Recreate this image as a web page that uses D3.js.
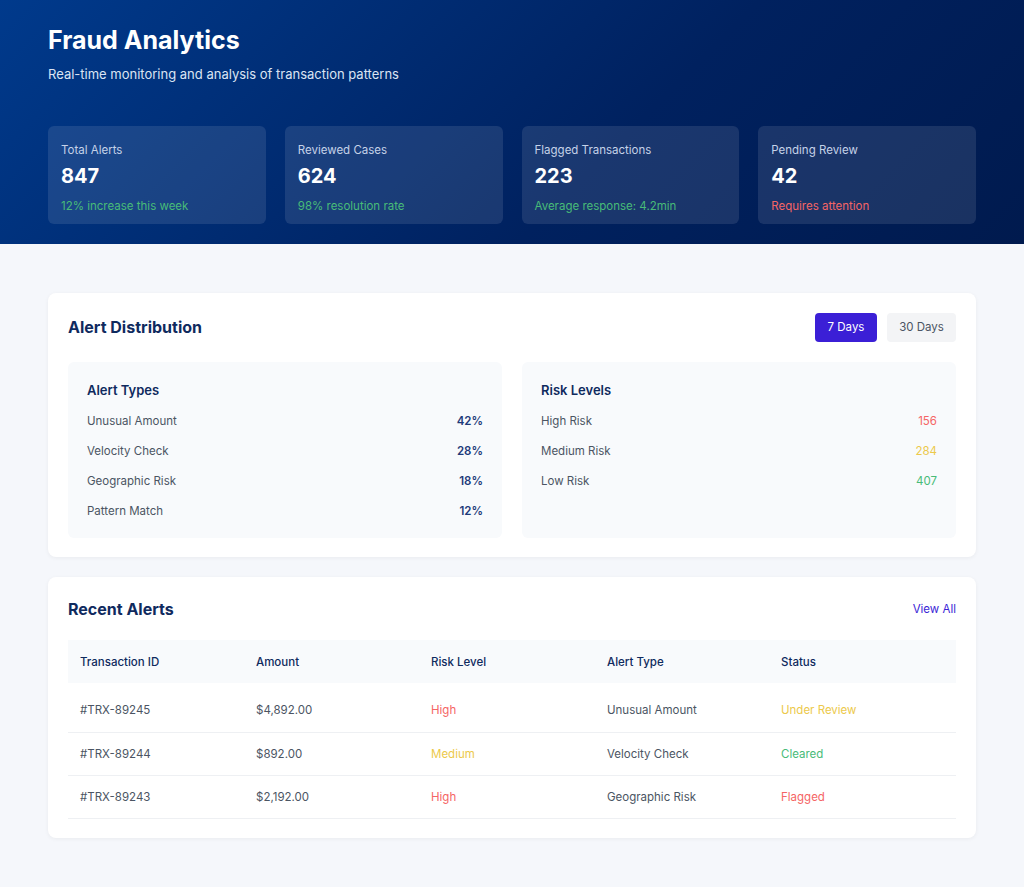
<!DOCTYPE html>
<html>
<head>
<meta charset="utf-8">
<script src="https://cdn.jsdelivr.net/npm/d3@7"></script>
<style>
  * { box-sizing: border-box; margin: 0; padding: 0; }
  body { width: 1024px; height: 887px; background: #f5f7fb; font-family: Inter, "Noto Sans", sans-serif; overflow: hidden; }
  .hero { height: 244px; background: linear-gradient(135deg, #003a8c 0%, #00215f 60%, #001a4e 100%); padding: 25px 48px 0; color: #fff; }
  .hero h1 { font-size: 25px; font-weight: 700; line-height: 30px; }
  .hero p { font-size: 13px; color: #dbe4f3; margin-top: 11px; }
  .stats { display: flex; gap: 19px; margin-top: 44px; }
  .stat { width: 218px; height: 98px; background: rgba(255,255,255,0.1); border-radius: 6px; padding: 17px 13px; }
  .stat .lbl { font-size: 11.5px; color: #c5d2e8; }
  .stat .val { font-size: 20px; font-weight: 700; margin-top: 7px; }
  .stat .sub { font-size: 11.5px; margin-top: 11px; }
  .panel { position: absolute; left: 48px; width: 928px; background: #fff; border-radius: 8px; box-shadow: 0 1px 4px rgba(0,0,0,0.05); }
  .ptitle { position: absolute; left: 20px; font-size: 16px; font-weight: 700; color: #0f2a5e; }
  .btn { position: absolute; height: 29px; border-radius: 4px; font-size: 11.5px; line-height: 29px; text-align: center; }
  .box { position: absolute; top: 69px; width: 434px; height: 176px; background: #f8fafc; border-radius: 6px; padding: 20px 19px; }
  .box h3 { font-size: 13px; font-weight: 600; color: #0f2a5e; margin-bottom: 13px; }
  .row { display: flex; justify-content: space-between; height: 30px; line-height: 20px; font-size: 11.5px; color: #4b5563; }
  .row b { font-weight: 600; }
  table { position: absolute; left: 20px; top: 63px; width: 888px; border-collapse: collapse; font-size: 11.5px; table-layout: fixed; }
  th { background: #f8fafc; height: 43px; text-align: left; font-weight: 500; color: #0f2a5e; padding-left: 12px; }
  td { height: 43px; padding-left: 12px; color: #4b5563; border-bottom: 1px solid #eef0f3; }
  tr.first td { height: 49px; padding-top: 6px; }
</style>
</head>
<body>
<div class="hero">
  <h1>Fraud Analytics</h1>
  <p>Real-time monitoring and analysis of transaction patterns</p>
  <div class="stats" id="stats"></div>
</div>
<div class="panel" style="top:293px;height:264px" id="dist"></div>
<div class="panel" style="top:577px;height:261px" id="recent"></div>
<script>
const statLabels = ["Total Alerts", "Reviewed Cases", "Flagged Transactions", "Pending Review"];
const statValues = [847, 624, 223, 42];
const statNotes = ["12% increase this week", "98% resolution rate", "Average response: 4.2min", "Requires attention"];
const statNoteColors = ["#48bb78", "#48bb78", "#48bb78", "#f56565"];

const alertTypes = ["Unusual Amount", "Velocity Check", "Geographic Risk", "Pattern Match"];
const alertShares = [42, 28, 18, 12];
const riskLevels = ["High Risk", "Medium Risk", "Low Risk"];
const riskCounts = [156, 284, 407];
const riskColors = ["#f56565", "#ecc94b", "#48bb78"];

const tableHead = ["Transaction ID", "Amount", "Risk Level", "Alert Type", "Status"];
const colWidths = [176, 175, 176, 174, 187];
const txIds = ["#TRX-89245", "#TRX-89244", "#TRX-89243"];
const txAmounts = [4892, 892, 2192];
const txRisk = ["High", "Medium", "High"];
const txType = ["Unusual Amount", "Velocity Check", "Geographic Risk"];
const txStatus = ["Under Review", "Cleared", "Flagged"];
const riskColor = { High: "#f56565", Medium: "#ecc94b" };
const statusColor = { "Under Review": "#ecc94b", "Cleared": "#48bb78", "Flagged": "#f56565" };

// stat cards
const cards = d3.select("#stats").selectAll(".stat")
    .data(statLabels).join("div").attr("class", "stat");
cards.append("div").attr("class", "lbl").text(d => d);
cards.append("div").attr("class", "val").text((d, i) => statValues[i]);
cards.append("div").attr("class", "sub").style("color", (d, i) => statNoteColors[i]).text((d, i) => statNotes[i]);

// alert distribution
const dist = d3.select("#dist");
dist.append("div").attr("class", "ptitle").style("top", "24px").text("Alert Distribution");
dist.append("div").attr("class", "btn")
    .style("left", "767px").style("top", "20px").style("width", "62px")
    .style("background", "#3b1fd6").style("color", "#fff").text("7 Days");
dist.append("div").attr("class", "btn")
    .style("left", "839px").style("top", "20px").style("width", "69px")
    .style("background", "#f3f4f6").style("color", "#4b5563").text("30 Days");

const b1 = dist.append("div").attr("class", "box").style("left", "20px");
b1.append("h3").text("Alert Types");
b1.selectAll(".row").data(alertTypes).join("div").attr("class", "row")
    .html((d, i) => `<span>${d}</span><b style="color:#1e3a7a">${alertShares[i]}%</b>`);

const b2 = dist.append("div").attr("class", "box").style("left", "474px");
b2.append("h3").text("Risk Levels");
b2.selectAll(".row").data(riskLevels).join("div").attr("class", "row")
    .html((d, i) => `<span>${d}</span><span style="color:${riskColors[i]}">${riskCounts[i]}</span>`);

// recent alerts
const recent = d3.select("#recent");
recent.append("div").attr("class", "ptitle").style("top", "22px").text("Recent Alerts");
recent.append("div").style("position", "absolute").style("right", "20px").style("top", "25px")
    .style("font-size", "11.5px").style("color", "#3b1fd6").text("View All");

const fmt = d3.format("$,.2f");
const table = recent.append("table");
table.append("colgroup").selectAll("col").data(colWidths).join("col").style("width", d => d + "px");
table.append("tr").selectAll("th").data(tableHead).join("th").text(d => d);
table.selectAll("tr.r").data(txIds).join("tr").attr("class", (d, i) => i === 0 ? "r first" : "r")
    .each(function(d, i) {
        const tr = d3.select(this);
        tr.append("td").text(d);
        tr.append("td").text(fmt(txAmounts[i]));
        tr.append("td").style("color", riskColor[txRisk[i]]).text(txRisk[i]);
        tr.append("td").text(txType[i]);
        tr.append("td").style("color", statusColor[txStatus[i]]).text(txStatus[i]);
    });
</script>
</body>
</html>
